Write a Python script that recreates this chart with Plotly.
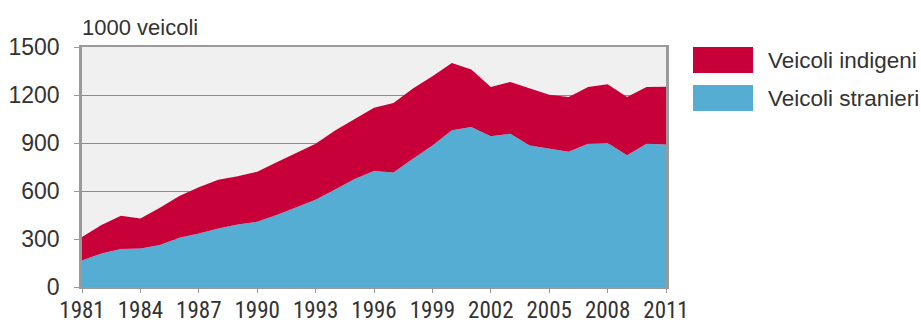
import plotly.graph_objects as go

years = list(range(1981, 2012))
stranieri = [165, 210, 238, 240, 262, 308, 335, 365, 390, 408, 450, 500, 545, 610, 675, 725,
             715, 802, 885, 979, 1000, 942, 958, 885, 865, 845, 896, 900, 823, 896, 890]
indigeni = [147, 178, 208, 188, 234, 260, 289, 305, 302, 312, 330, 337, 350, 368, 375, 395,
            435, 438, 432, 421, 360, 308, 323, 358, 337, 342, 354, 367, 364, 354, 362]
x_ticks = list(range(1981, 2012, 3))
y_ticks = [0, 300, 600, 900, 1200, 1500]

RED = "#C8003A"
BLUE = "#56ADD4"
GRAY = "#9a9a9a"
TXT = "#333333"

fig = go.Figure()
fig.add_trace(go.Scatter(x=years, y=stranieri, name="Veicoli stranieri", stackgroup="a",
                         mode="lines", line=dict(width=0, color=BLUE), fillcolor=BLUE,
                         showlegend=False))
fig.add_trace(go.Scatter(x=years, y=indigeni, name="Veicoli indigeni", stackgroup="a",
                         mode="lines", line=dict(width=0, color=RED), fillcolor=RED,
                         showlegend=False))

fig.update_layout(
    width=921, height=328,
    margin=dict(l=82, r=255, t=47, b=41),
    paper_bgcolor="white",
    plot_bgcolor="#F0F0F0",
    font=dict(family="Liberation Sans, Arial, sans-serif", color=TXT),
)
fig.update_xaxes(
    range=[1981, 2011], tickvals=x_ticks, ticktext=[str(v) for v in x_ticks],
    showgrid=False, showline=True, linecolor=GRAY, linewidth=1.5, mirror=True,
    ticks="outside", ticklen=4, tickcolor=GRAY, tickwidth=1,
    ticklabelstandoff=-2, automargin=False,
    tickfont=dict(family="Liberation Sans Narrow, Arial Narrow, Roboto Condensed, DejaVu Sans Condensed, sans-serif",
                  size=23, color=TXT),
    zeroline=False,
)
fig.update_yaxes(
    range=[0, 1500], tickvals=y_ticks,
    showgrid=True, gridcolor="#8c8c8c", gridwidth=1.2,
    showline=True, linecolor=GRAY, linewidth=2.5, mirror=True,
    ticks="outside", ticklen=5, tickcolor=GRAY, tickwidth=1,
    ticklabelstandoff=10, automargin=False,
    tickfont=dict(size=23, color=TXT), zeroline=False,
)

# axis unit label
fig.add_annotation(x=0, y=1, xref="paper", yref="paper", xanchor="left", yanchor="bottom",
                   text="1000 veicoli", showarrow=False, yshift=5, xshift=-2,
                   font=dict(size=22, color=TXT))

# legend drawn manually
legend_items = [("Veicoli indigeni", RED), ("Veicoli stranieri", BLUE)]
for i, (label, col) in enumerate(legend_items):
    top = 47 + i * 38
    fig.add_shape(type="rect", xref="paper", yref="paper",
                  x0=(693 - 82) / 584, x1=(753 - 82) / 584,
                  y0=(287 - (top + 26)) / 240, y1=(287 - top) / 240,
                  fillcolor=col, line=dict(width=0))
    fig.add_annotation(x=(766 - 82) / 584, y=(287 - (top + 13)) / 240, xref="paper", yref="paper",
                       xanchor="left", yanchor="middle", text=label, showarrow=False,
                       font=dict(size=22.5, color=TXT))

fig.write_html("out.html")
